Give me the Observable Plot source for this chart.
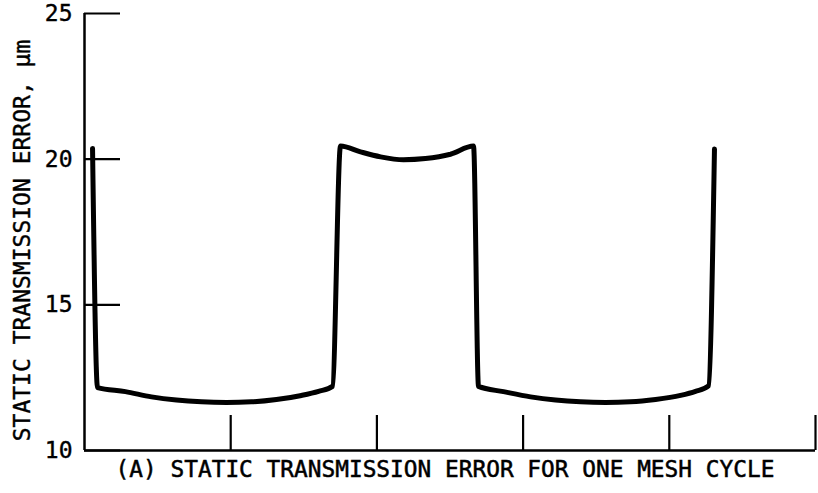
<!DOCTYPE html>
<html>
<head>
<meta charset="utf-8">
<script src="https://cdn.jsdelivr.net/npm/d3@7"></script>
<script src="https://cdn.jsdelivr.net/npm/@observablehq/plot@0.6"></script>
<style>
  html, body { margin: 0; padding: 0; background: #fff; }
  #cap { font-family: "DejaVu Sans Mono", monospace; font-size: 22.8px; line-height: 26px;
         text-align: center; padding-left: 72px; width: 746px; color: #000; margin-top: -6px;
         -webkit-text-stroke: 0.5px #000; }
  svg text { stroke: #000; stroke-width: 0.4px; }
</style>
</head>
<body>
<div id="chart"></div>
<div id="cap">(A) STATIC TRANSMISSION ERROR FOR ONE MESH CYCLE</div>
<script>
// Position within the mesh cycle (axis units, 0..5) and static transmission error (µm)
const posX = [0.055, 0.089, 0.280, 0.458, 0.629, 0.800, 0.971, 1.142, 1.313, 1.484, 1.601, 1.696,
              1.751, 1.888, 2.025, 2.182, 2.332, 2.503, 2.661,
              2.695, 2.866, 3.051, 3.222, 3.393, 3.564, 3.735, 3.906, 4.077, 4.179, 4.268,
              4.309];
const errorUm = [20.37, 12.16, 12.02, 11.84, 11.73, 11.67, 11.65, 11.67, 11.75, 11.89, 12.03, 12.2,
                 20.45, 20.25, 20.08, 19.98, 20.02, 20.17, 20.45,
                 12.2, 12.02, 11.84, 11.73, 11.67, 11.65, 11.67, 11.75, 11.89, 12.03, 12.22,
                 20.35];
const yTicks = [10, 15, 20, 25];
const xTicks = [1, 2, 3, 4, 5];
const yLabel = "STATIC TRANSMISSION ERROR, μm";

const data = posX.map((x, i) => ({x, y: errorUm[i]}));

const chart = Plot.plot({
  width: 818,
  height: 462,
  marginLeft: 84,
  marginRight: 3,
  marginTop: 13,
  marginBottom: 12,
  style: {fontFamily: "DejaVu Sans Mono, monospace", fontSize: "23px", color: "#000", background: "#fff"},
  x: {domain: [0, 5]},
  y: {domain: [10, 25]},
  marks: [
    Plot.axisY(yTicks, {tickSize: 0, tickPadding: 12, fontSize: 23, label: null}),
    Plot.text([yLabel], {frameAnchor: "left", rotate: -90, textAnchor: "middle", dx: -62, dy: 8.5, fontSize: 23, text: d => d}),
    Plot.axisY(yTicks, {tickSize: -36, text: null, label: null, strokeWidth: 2.2}),
    Plot.axisX(xTicks, {tickSize: -35, text: null, label: null, strokeWidth: 2.2}),
    Plot.ruleX([0], {strokeWidth: 2.5}),
    Plot.ruleY([10], {strokeWidth: 2.5}),
    Plot.line(data, {x: "x", y: "y", stroke: "#000", strokeWidth: 5, curve: "monotone-x", strokeLinejoin: "miter"})
  ]
});
document.getElementById("chart").appendChild(chart);
</script>
</body>
</html>
